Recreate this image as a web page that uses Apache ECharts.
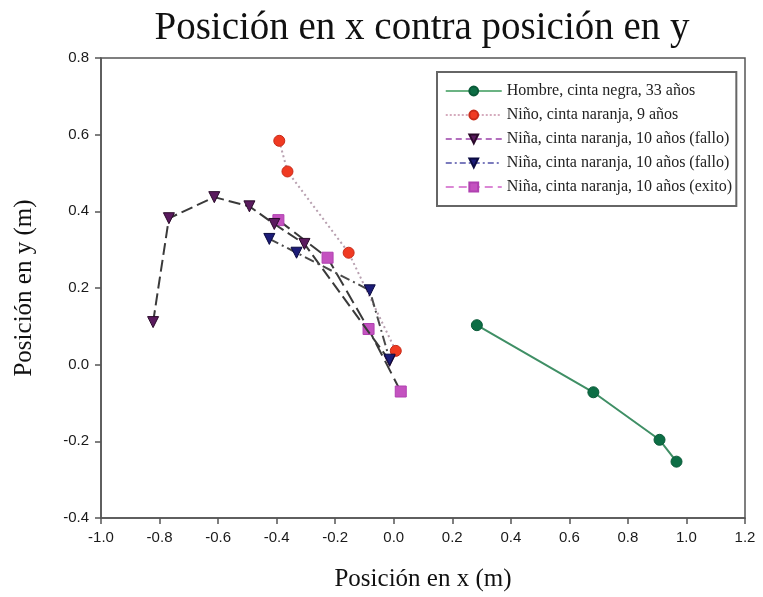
<!DOCTYPE html>
<html>
<head>
<meta charset="utf-8">
<script src="https://cdn.jsdelivr.net/npm/echarts@6/dist/echarts.min.js"></script>
<style>
  html, body { margin: 0; padding: 0; background: #fff; }
  #chart { width: 763px; height: 597px; }
</style>
</head>
<body>
<div id="chart"></div>
<script>
// Trayectorias medidas: posición x (m) y posición y (m)
const hombreX = [0.284, 0.682, 0.908, 0.966];
const hombreY = [0.103, -0.072, -0.196, -0.253];

const ninoX = [-0.391, -0.363, -0.154, 0.007];
const ninoY = [0.584, 0.504, 0.292, 0.036];

const ninaFallo1X = [-0.822, -0.768, -0.613, -0.493, -0.408, -0.305, -0.014];
const ninaFallo1Y = [0.111, 0.382, 0.437, 0.413, 0.367, 0.315, 0.010];

const ninaFallo2X = [-0.425, -0.332, -0.082, -0.014];
const ninaFallo2Y = [0.328, 0.292, 0.194, 0.013];

const ninaExitoX = [-0.394, -0.226, -0.086, 0.024];
const ninaExitoY = [0.377, 0.279, 0.093, -0.070];

const seriesNames = [
  'Hombre, cinta negra, 33 años',
  'Niño, cinta naranja, 9 años',
  'Niña, cinta naranja, 10 años (fallo)',
  'Niña, cinta naranja, 10 años (fallo) ',
  'Niña, cinta naranja, 10 años (exito)'
];

const xTicks = { min: -1.0, max: 1.2, interval: 0.2 };
const yTicks = { min: -0.4, max: 0.8, interval: 0.2 };

function pairs(xs, ys) {
  return xs.map((x, i) => [x, ys[i]]);
}

const serif = '"Liberation Serif", "Times New Roman", serif';
const sans = '"Liberation Sans", Arial, sans-serif';

const chart = echarts.init(document.getElementById('chart'), null, { renderer: 'canvas' });

chart.setOption({
  animation: false,
  backgroundColor: '#ffffff',
  title: {
    text: 'Posición en x contra posición en y',
    left: 417,
    top: 4,
    textAlign: 'center',
    textStyle: { fontFamily: serif, fontSize: 39, fontWeight: 'normal', color: '#111' }
  },
  grid: { left: 101, right: 18, top: 58, bottom: 77, show: true, borderColor: '#555', borderWidth: 1.5, backgroundColor: 'transparent' },
  legend: {
    orient: 'vertical',
    left: 437,
    top: 72,
    padding: [11, 3, 11, 8],
    itemWidth: 56,
    itemHeight: 11,
    itemGap: 8,
    backgroundColor: '#ffffff',
    borderColor: '#666',
    borderWidth: 2,
    textStyle: { fontFamily: serif, fontSize: 16, color: '#222' },
    data: [
      { name: seriesNames[0], lineStyle: { color: '#3a9a5a', type: 'solid', width: 1.5 } },
      { name: seriesNames[1], lineStyle: { color: '#c890a8', type: [2, 2], width: 1.5 } },
      { name: seriesNames[2], lineStyle: { color: '#9a40a8', type: [6, 4], width: 1.5 } },
      { name: seriesNames[3], lineStyle: { color: '#5050a8', type: [6, 3, 2, 3], width: 1.5 } },
      { name: seriesNames[4], lineStyle: { color: '#d060c8', type: [8, 5], width: 1.5 } }
    ]
  },
  xAxis: {
    type: 'value',
    min: xTicks.min, max: xTicks.max, interval: xTicks.interval,
    name: 'Posición en x (m)',
    nameLocation: 'middle',
    nameGap: 49,
    nameTextStyle: { fontFamily: serif, fontSize: 25, color: '#111' },
    axisLine: { show: true, onZero: false, lineStyle: { color: '#555', width: 1.5 } },
    axisTick: { show: true, inside: false, length: 6, lineStyle: { color: '#555', width: 1.5 } },
    axisLabel: { fontFamily: sans, fontSize: 15, color: '#1a1a1a', margin: 12, formatter: v => v.toFixed(1) },
    splitLine: { show: false }
  },
  yAxis: {
    type: 'value',
    min: yTicks.min, max: yTicks.max, interval: yTicks.interval,
    name: 'Posición en y (m)',
    nameLocation: 'middle',
    nameGap: 64,
    nameTextStyle: { fontFamily: serif, fontSize: 25, color: '#111' },
    axisLine: { show: true, onZero: false, lineStyle: { color: '#555', width: 1.5 } },
    axisTick: { show: true, inside: false, length: 6, lineStyle: { color: '#555', width: 1.5 } },
    axisLabel: { fontFamily: sans, fontSize: 15, color: '#1a1a1a', margin: 12, formatter: v => v.toFixed(1) },
    splitLine: { show: false }
  },
  series: [
    {
      name: seriesNames[0], type: 'line', data: pairs(hombreX, hombreY),
      symbol: 'circle', symbolSize: 11,
      itemStyle: { color: '#0d6e45', borderColor: '#0a5a38', borderWidth: 1 },
      lineStyle: { color: '#3f8f65', width: 2, type: 'solid' }, z: 3
    },
    {
      name: seriesNames[1], type: 'line', data: pairs(ninoX, ninoY),
      symbol: 'circle', symbolSize: 11,
      itemStyle: { color: '#f03a22', borderColor: '#c82a18', borderWidth: 1 },
      lineStyle: { color: '#b8a0b0', width: 2, type: [2, 3] }, z: 2
    },
    {
      name: seriesNames[2], type: 'line', data: pairs(ninaFallo1X, ninaFallo1Y),
      symbol: 'triangle', symbolRotate: 180, symbolSize: 11,
      itemStyle: { color: '#5a1a5e', borderColor: '#2a0a2a', borderWidth: 1 },
      lineStyle: { color: '#3a3a3a', width: 2, type: [12, 5] }, z: 4
    },
    {
      name: seriesNames[3], type: 'line', data: pairs(ninaFallo2X, ninaFallo2Y),
      symbol: 'triangle', symbolRotate: 180, symbolSize: 11,
      itemStyle: { color: '#1c1c78', borderColor: '#0a0a40', borderWidth: 1 },
      lineStyle: { color: '#4a4a4a', width: 2, type: [10, 4, 2, 4] }, z: 5
    },
    {
      name: seriesNames[4], type: 'line', data: pairs(ninaExitoX, ninaExitoY),
      symbol: 'rect', symbolSize: 11,
      itemStyle: { color: '#c452c0', borderColor: '#b040b0', borderWidth: 1 },
      lineStyle: { color: '#3a3a3a', width: 2, type: [14, 6] }, z: 3
    }
  ]
});
</script>
</body>
</html>
